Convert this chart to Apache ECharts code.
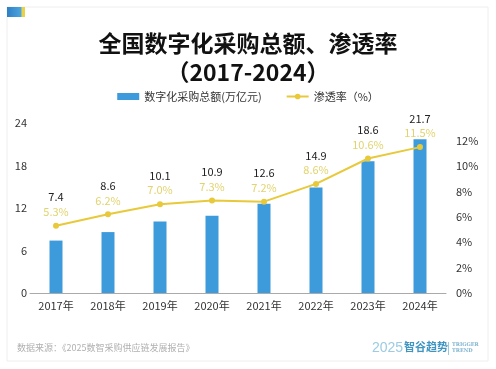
<!DOCTYPE html>
<html><head><meta charset="utf-8">
<script src="https://cdn.jsdelivr.net/npm/echarts@6/dist/echarts.min.js"></script>
<style>html,body{margin:0;padding:0;background:#fff}#c{width:496px;height:369px}</style>
</head><body><div id="c"></div>
<script>
const years = ['2017年','2018年','2019年','2020年','2021年','2022年','2023年','2024年'];
const amount = [7.4, 8.6, 10.1, 10.9, 12.6, 14.9, 18.6, 21.7];
const rate = [5.3, 6.2, 7.0, 7.3, 7.2, 8.6, 10.6, 11.5];
const leftTicks = [0, 6, 12, 18, 24];
const rightTicks = [0, 2, 4, 6, 8, 10, 12];

const FONT = '"Noto Sans CJK SC", "Noto Sans", sans-serif';
const chart = echarts.init(document.getElementById('c'));
chart.setOption({
  backgroundColor: '#fff',
  textStyle: { fontFamily: FONT },
  title: {
    text: '全国数字化采购总额、渗透率\n（2017-2024）',
    left: 'center', top: 24,
    textStyle: { fontFamily: FONT, fontSize: 23, fontWeight: 'bold', color: '#111', lineHeight: 29 }
  },
  legend: {
    top: 86, left: 'center', itemGap: 24,
    textStyle: { fontFamily: FONT, fontSize: 11, color: '#333' },
    data: [
      { name: '数字化采购总额(万亿元)', icon: 'rect', itemStyle: { color: '#3D9BDC' } },
      { name: '渗透率（%）' }
    ],
    itemWidth: 22, itemHeight: 7
  },
  grid: { left: 30, right: 50, top: 123, bottom: 76 },
  xAxis: {
    type: 'category', data: years,
    axisLine: { lineStyle: { color: '#aaa' } },
    axisTick: { show: false },
    axisLabel: { color: '#333', fontSize: 11, margin: 7, fontFamily: FONT }
  },
  yAxis: [
    {
      type: 'value', min: leftTicks[0], max: leftTicks[leftTicks.length - 1], interval: 6,
      splitLine: { show: false }, axisLine: { show: false }, axisTick: { show: false },
      axisLabel: { color: '#333', fontSize: 11, margin: 3, fontFamily: FONT }
    },
    {
      type: 'value', min: rightTicks[0], max: 13.4, interval: 2,
      splitLine: { show: false }, axisLine: { show: false }, axisTick: { show: false },
      axisLabel: { color: '#333', fontSize: 11, margin: 10, showMaxLabel: false, formatter: '{value}%', fontFamily: FONT }
    }
  ],
  series: [
    {
      name: '数字化采购总额(万亿元)', type: 'bar', data: amount, barWidth: 13,
      itemStyle: { color: '#3D9BDC' }
    },
    {
      name: '渗透率（%）', type: 'line', yAxisIndex: 1, data: rate,
      symbol: 'circle', symbolSize: 6,
      lineStyle: { color: '#E8C93A', width: 2 },
      itemStyle: { color: '#E8C93A' },
      label: {
        show: true, position: 'top', distance: 4,
        formatter: p => '{v|' + amount[p.dataIndex] + '}\n{p|' + rate[p.dataIndex].toFixed(1) + '%}',
        rich: {
          v: { color: '#222', fontSize: 11, lineHeight: 15, fontFamily: FONT },
          p: { color: '#E3D36E', fontSize: 11, lineHeight: 14, fontFamily: FONT }
        }
      }
    }
  ],
  graphic: [
    { type: 'rect', shape: { x: 7, y: 7, width: 481, height: 354 }, style: { fill: 'none', stroke: '#eee', lineWidth: 1 }, silent: true },
    { type: 'rect', shape: { x: 7, y: 7, width: 18, height: 10 }, style: { fill: new echarts.graphic.LinearGradient(0, 0, 1, 0, [{ offset: 0, color: '#2F7FC4' }, { offset: 0.75, color: '#4AA3DD' }, { offset: 0.85, color: '#E8D24A' }, { offset: 1, color: '#E8D24A' }]) } },
    { type: 'text', left: 17, top: 343, style: { text: '数据来源：《2025数智采购供应链发展报告》', fill: '#b0b0b0', font: '9px ' + FONT } },
    { type: 'text', left: 372, top: 341, style: { text: '2025', fill: '#9ccbe2', font: '14px "Liberation Sans", sans-serif' } },
    { type: 'text', left: 404, top: 341, style: { text: '智谷趋势', fill: '#3f95c0', font: 'bold 11px ' + FONT } },
    { type: 'rect', shape: { x: 448, y: 342, width: 1, height: 13 }, style: { fill: '#9cc8de' } },
    { type: 'text', left: 452, top: 342, style: { text: 'TRIGGER\nTREND', fill: '#7fb4cf', font: 'bold 5px "DejaVu Serif", serif', lineHeight: 6 } }
  ]
});
</script></body></html>
